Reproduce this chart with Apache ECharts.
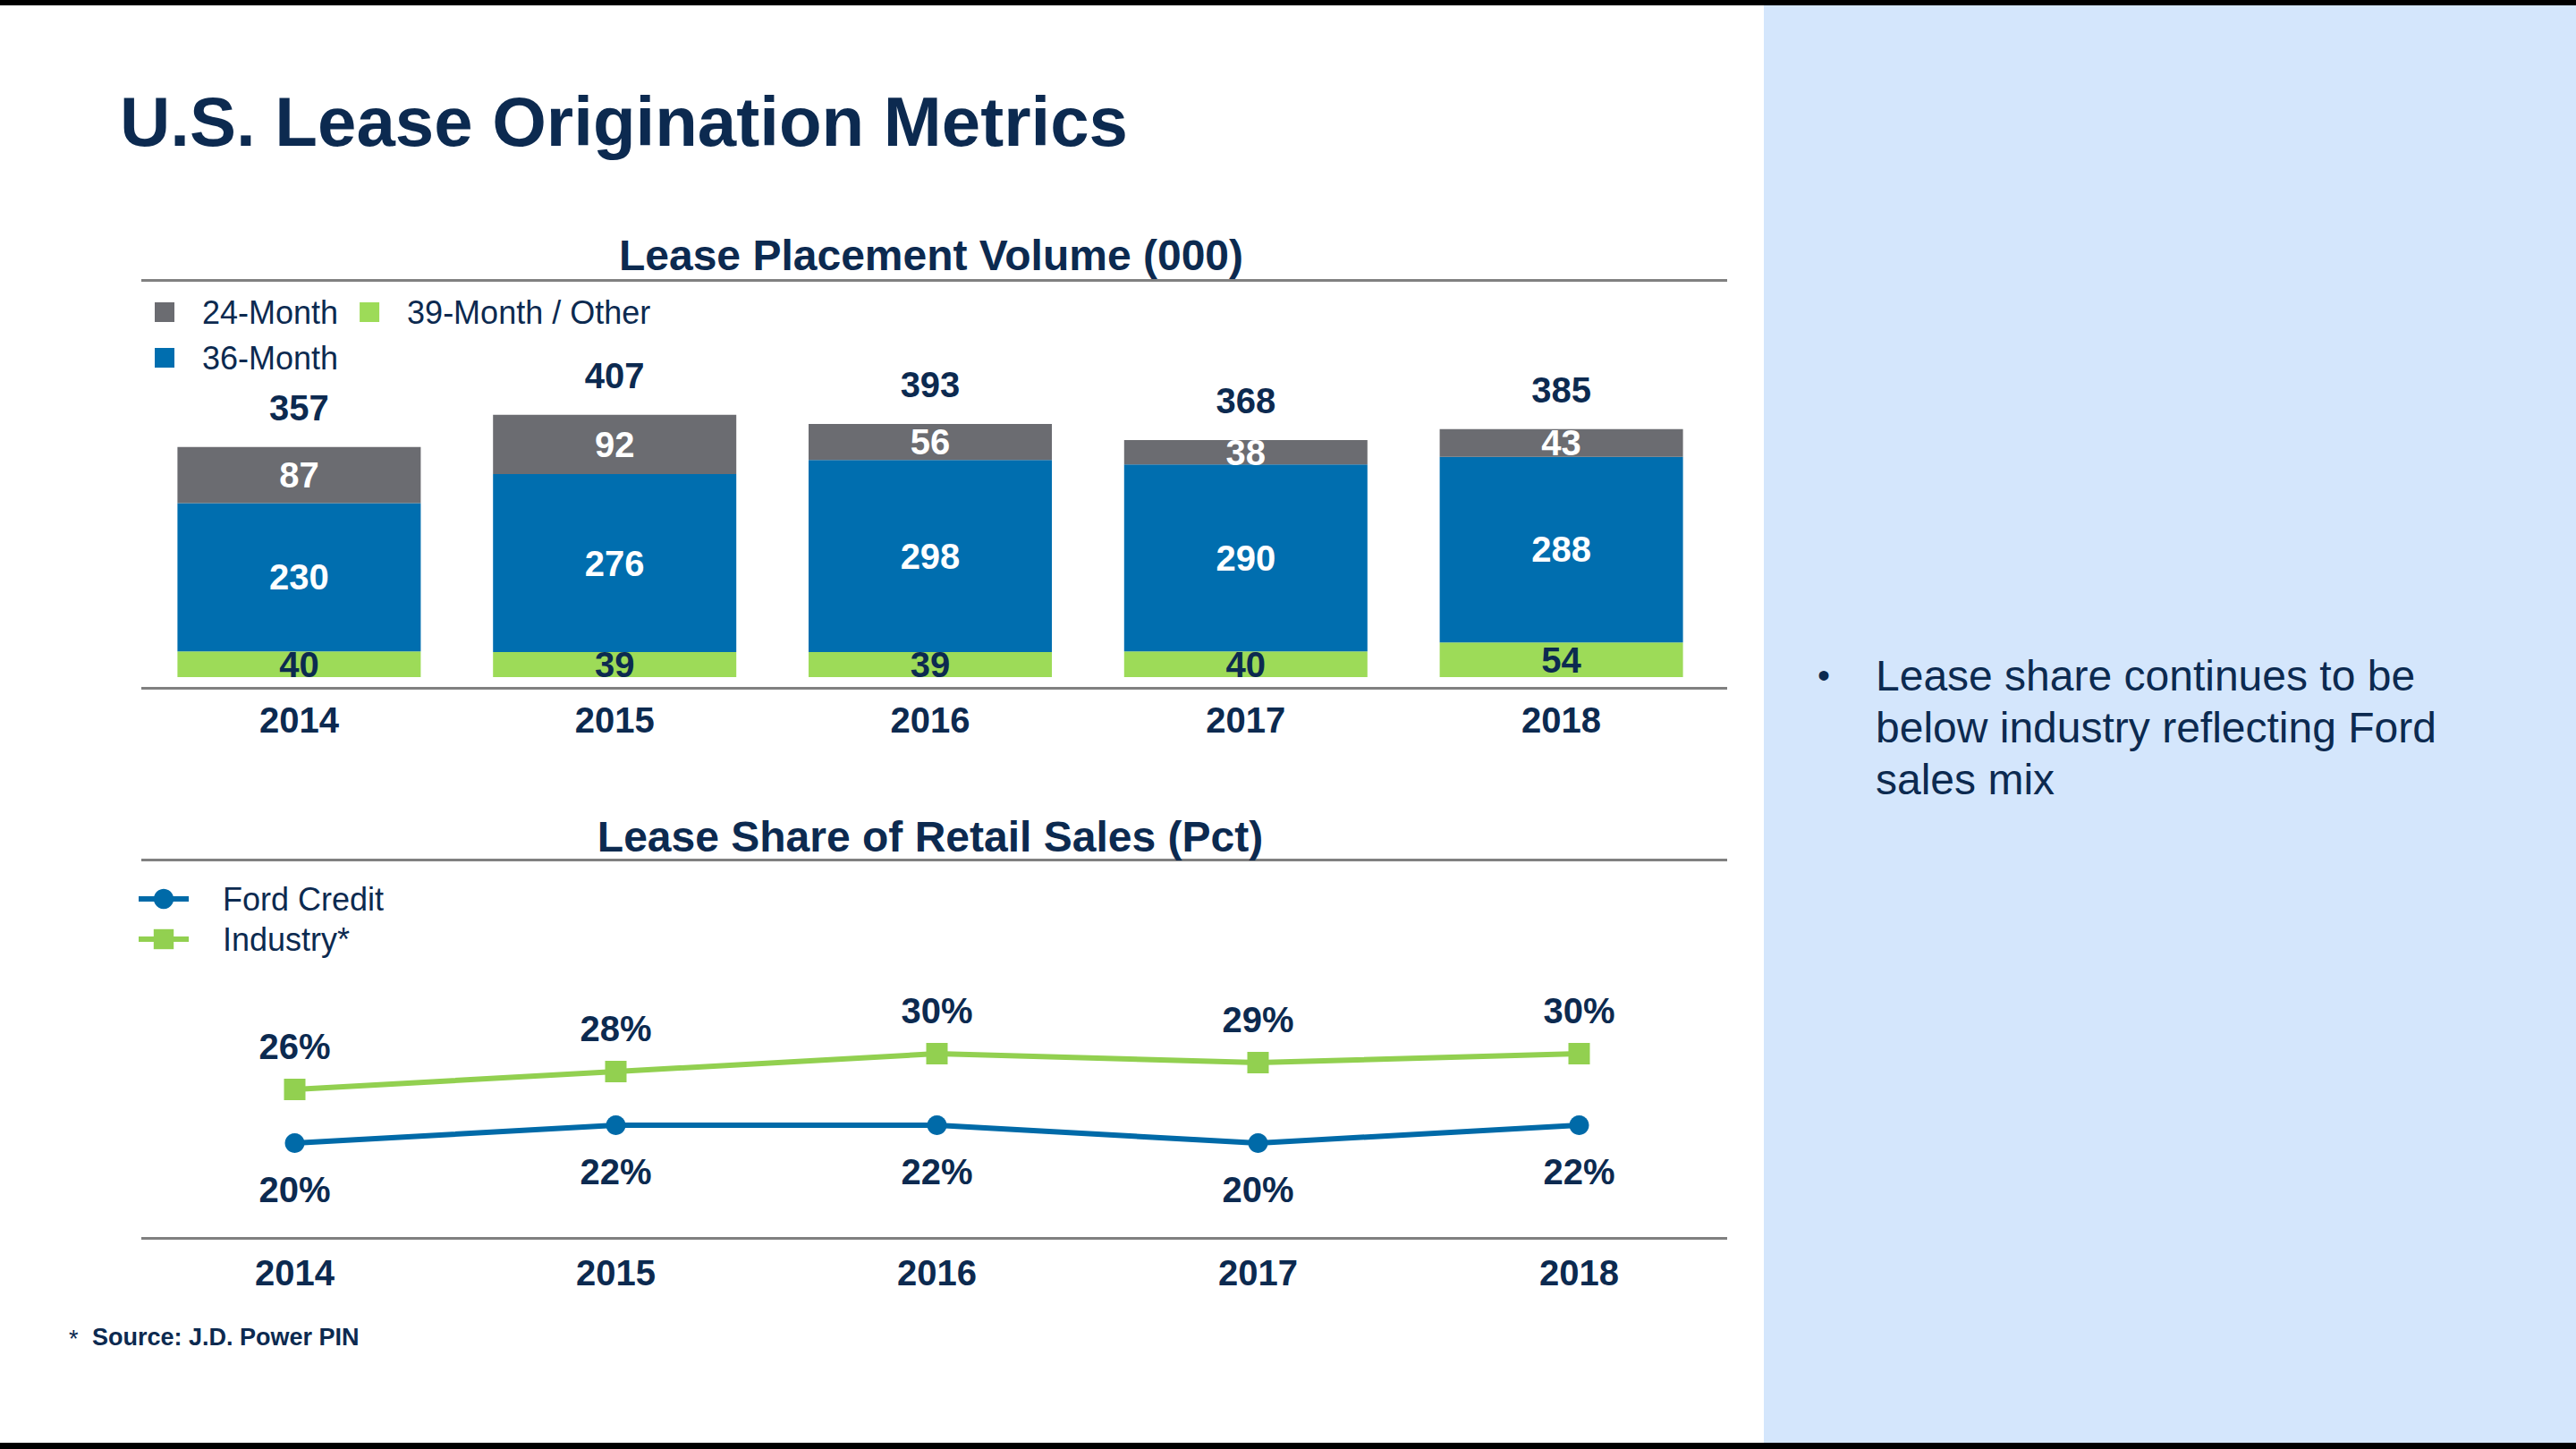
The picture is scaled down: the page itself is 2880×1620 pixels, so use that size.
<!DOCTYPE html>
<html>
<head>
<meta charset="utf-8">
<script src="https://cdn.jsdelivr.net/npm/echarts@6/dist/echarts.min.js"></script>
<style>
html,body{margin:0;padding:0;background:#fff;}
#main{width:2880px;height:1620px;}
</style>
</head>
<body>
<div id="main"></div>
<script>
// ---- data ----
const years = ['2014', '2015', '2016', '2017', '2018'];
const month24 = [87, 92, 56, 38, 43];
const month36 = [230, 276, 298, 290, 288];
const month39 = [40, 39, 39, 40, 54];
const totals = [357, 407, 393, 368, 385];
const fordCredit = [20, 22, 22, 20, 22];
const industry = [26, 28, 30, 29, 30];

// ---- style ----
const FONT = '"Liberation Sans", Arial, sans-serif';
const NAVY = '#0C2A50';
const C_GRAY = '#6B6C71';
const C_BLUE = '#006EAF';
const C_GREEN = '#9DDB58';
const L_BLUE = '#006AA8';
const L_GREEN = '#92D050';
const RULE = '#808080';
const PANEL = '#D4E6FC';

const chart = echarts.init(document.getElementById('main'), null, { renderer: 'svg' });

const boldLabel = (color) => ({
  show: true, position: 'inside', color: color,
  fontFamily: FONT, fontWeight: 'bold', fontSize: 40
});

const option = {
  animation: false,
  backgroundColor: '#ffffff',
  graphic: [
    { type: 'rect', shape: { x: 1972, y: 0, width: 908, height: 1620 }, style: { fill: PANEL }, z: -10 },
    { type: 'rect', shape: { x: 0, y: 0, width: 2880, height: 6 }, style: { fill: '#000' } },
    { type: 'rect', shape: { x: 0, y: 1613, width: 2880, height: 7 }, style: { fill: '#000' } },
    { type: 'rect', shape: { x: 158, y: 312, width: 1773, height: 3 }, style: { fill: RULE } },
    { type: 'rect', shape: { x: 158, y: 768, width: 1773, height: 3 }, style: { fill: RULE } },
    { type: 'rect', shape: { x: 158, y: 960, width: 1773, height: 3 }, style: { fill: RULE } },
    { type: 'rect', shape: { x: 158, y: 1383, width: 1773, height: 3 }, style: { fill: RULE } },
    { type: 'text', x: 134, y: 136, style: { text: 'U.S. Lease Origination Metrics', fill: NAVY, font: 'bold 78px ' + FONT, textVerticalAlign: 'middle' } },
    { type: 'text', x: 1041, y: 285, style: { text: 'Lease Placement Volume (000)', fill: NAVY, font: 'bold 48px ' + FONT, textAlign: 'center', textVerticalAlign: 'middle' } },
    { type: 'text', x: 1040, y: 935, style: { text: 'Lease Share of Retail Sales (Pct)', fill: NAVY, font: 'bold 48px ' + FONT, textAlign: 'center', textVerticalAlign: 'middle' } },
    { type: 'text', x: 77, y: 1497, style: { text: '*', fill: NAVY, font: '27px ' + FONT, textVerticalAlign: 'middle' } },
    { type: 'text', x: 103, y: 1495, style: { text: 'Source: J.D. Power PIN', fill: NAVY, font: 'bold 27px ' + FONT, textVerticalAlign: 'middle' } },
    { type: 'text', x: 2032, y: 755, style: { text: '•', fill: NAVY, font: '40px ' + FONT, textVerticalAlign: 'middle' } },
    { type: 'text', x: 2097, y: 726, style: { text: 'Lease share continues to be\nbelow industry reflecting Ford\nsales mix', fill: NAVY, font: '48px ' + FONT, lineHeight: 58, textVerticalAlign: 'top' } }
  ],
  legend: [
    {
      data: ['24-Month', '39-Month / Other'], left: 168, top: 326, orient: 'horizontal',
      itemWidth: 22, itemHeight: 22, itemGap: 24, icon: 'rect',
      textStyle: { color: NAVY, fontFamily: FONT, fontSize: 36, padding: [0, 0, 0, 26] }
    },
    {
      data: ['36-Month'], left: 168, top: 377, orient: 'horizontal',
      itemWidth: 22, itemHeight: 22, icon: 'rect',
      textStyle: { color: NAVY, fontFamily: FONT, fontSize: 36, padding: [0, 0, 0, 26] }
    },
    {
      data: ['Ford Credit', 'Industry*'], left: 147, top: 982, orient: 'vertical',
      itemWidth: 56, itemHeight: 28, itemGap: 9,
      lineStyle: { width: 6 },
      textStyle: { color: NAVY, fontFamily: FONT, fontSize: 36, padding: [0, 0, 0, 33] }
    }
  ],
  grid: [
    { left: 158, right: 958, top: 314, bottom: 850 },
    { left: 150, right: 935, top: 962, bottom: 235 }
  ],
  xAxis: [
    {
      type: 'category', gridIndex: 0, data: years,
      axisLine: { show: false },
      axisTick: { show: false },
      axisLabel: { color: NAVY, fontFamily: FONT, fontWeight: 'bold', fontSize: 40, margin: 15 }
    },
    {
      type: 'category', gridIndex: 1, data: years,
      axisLine: { show: false },
      axisTick: { show: false },
      axisLabel: { color: NAVY, fontFamily: FONT, fontWeight: 'bold', fontSize: 40, margin: 18 }
    }
  ],
  yAxis: [
    { type: 'value', gridIndex: 0, min: -18, max: 615, show: false, splitLine: { show: false } },
    { type: 'value', gridIndex: 1, min: 9.3, max: 51.6, show: false, splitLine: { show: false } }
  ],
  series: [
    {
      name: '39-Month / Other', type: 'bar', stack: 'vol', xAxisIndex: 0, yAxisIndex: 0,
      data: month39, barWidth: 272, itemStyle: { color: C_GREEN },
      label: boldLabel(NAVY)
    },
    {
      name: '36-Month', type: 'bar', stack: 'vol', xAxisIndex: 0, yAxisIndex: 0,
      data: month36, barWidth: 272, itemStyle: { color: C_BLUE },
      label: boldLabel('#ffffff')
    },
    {
      name: '24-Month', type: 'bar', stack: 'vol', xAxisIndex: 0, yAxisIndex: 0,
      data: month24, barWidth: 272, itemStyle: { color: C_GRAY },
      label: boldLabel('#ffffff')
    },
    {
      name: 'Total', type: 'scatter', xAxisIndex: 0, yAxisIndex: 0,
      data: totals, symbolSize: 0, itemStyle: { color: NAVY, opacity: 1 },
      label: { show: true, position: 'top', distance: 24, color: NAVY, opacity: 1, fontFamily: FONT, fontWeight: 'bold', fontSize: 40 },
      emphasis: { disabled: true },
      z: 5
    },
    {
      name: 'Ford Credit', type: 'line', xAxisIndex: 1, yAxisIndex: 1,
      data: fordCredit, symbol: 'circle', symbolSize: 22,
      lineStyle: { color: L_BLUE, width: 6 }, itemStyle: { color: L_BLUE },
      label: { show: true, position: 'bottom', distance: 21, formatter: '{c}%', color: NAVY, fontFamily: FONT, fontWeight: 'bold', fontSize: 40 }
    },
    {
      name: 'Industry*', type: 'line', xAxisIndex: 1, yAxisIndex: 1,
      data: industry, symbol: 'rect', symbolSize: 24,
      lineStyle: { color: L_GREEN, width: 6 }, itemStyle: { color: L_GREEN },
      label: { show: true, position: 'top', distance: 16, formatter: '{c}%', color: NAVY, fontFamily: FONT, fontWeight: 'bold', fontSize: 40 }
    }
  ]
};

chart.setOption(option);
</script>
</body>
</html>
